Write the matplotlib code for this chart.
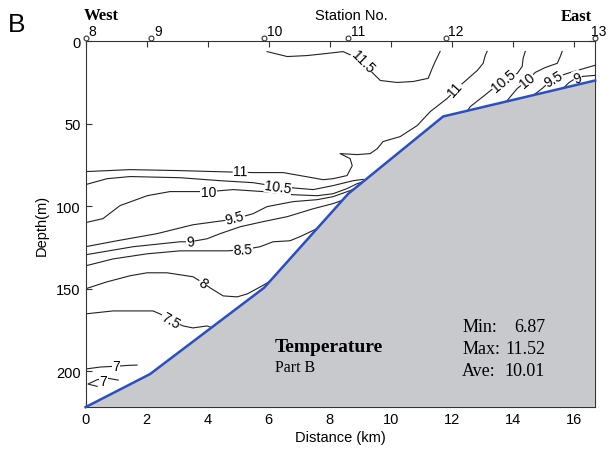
import matplotlib
matplotlib.use("Agg")
import matplotlib.pyplot as plt
import matplotlib.transforms as mtransforms

# sea floor along the section (km, m)
bottom_km = [0.0, 2.11, 5.85, 8.61, 11.72, 16.70]
bottom_depth = [221.8, 201.8, 149.5, 92.5, 45.7, 23.9]

station_names = ["8", "9", "10", "11", "12", "13"]
station_km = [0.0, 2.15, 5.85, 8.6, 11.8, 16.7]

# isotherms traced off the section (km, m)
c115_x = [5.95, 6.61, 7.26, 7.92, 8.44, 8.93, 9.26, 9.49, 9.66, 10.21, 10.74, 11.23, 11.36, 11.46, 11.62]
c115_y = [6.4, 9.4, 8.8, 7.5, 6.4, 10.5, 16.6, 20.8, 23.9, 25.1, 24.5, 22.6, 16.6, 12.4, 6.3]

c11_x = [0, 1.46, 3.10, 4.25, 5.49, 6.48, 7.79, 8.11, 8.57, 8.74, 8.67, 8.34, 8.90, 9.33,
         9.56, 9.75, 10.31, 10.87, 11.30, 11.85, 12.28, 12.84, 13.03, 13.10, 13.16]
c11_y = [79.1, 77.9, 78.5, 79.1, 79.7, 79.7, 84.0, 83.4, 81.5, 75.5, 71.2, 68.2, 68.8, 68.2,
         65.2, 60.9, 57.9, 51.2, 42.7, 34.8, 26.9, 17.8, 13.5, 8.7, 6.3]

c105a_x = [0, 0.70, 1.46, 3.10, 4.41, 5.49, 6.31, 7.46, 8.11, 8.77, 9.1]
c105a_y = [87.0, 83.4, 82.1, 82.8, 84.6, 85.8, 88.2, 90.0, 87.6, 84.6, 83.8]
c105b_x = [12.45, 12.61, 13.03, 13.36, 13.69, 14.15, 14.31, 14.34, 14.41]
c105b_y = [44.0, 39.7, 33.6, 28.7, 23.9, 19.6, 15.4, 10.5, 6.3]

c10a_x = [0, 0.57, 1.13, 2.02, 2.77, 4.05, 4.84, 5.82, 6.80, 7.59, 8.11, 8.57, 8.90, 9.1]
c10a_y = [110.0, 107.6, 99.7, 93.7, 91.2, 91.2, 90.0, 91.2, 93.1, 93.7, 92.5, 89.4, 86.4, 85.2]
c10b_x = [13.7, 13.82, 14.15, 14.48, 14.74, 15.07, 15.46, 15.56, 15.62]
c10b_y = [37.5, 36.0, 28.7, 23.9, 19.0, 16.0, 13.5, 9.3, 6.3]

c95a_x = [0, 1.03, 2.34, 3.52, 4.84, 5.49, 5.95, 6.80, 7.59, 8.11, 8.67, 9.0]
c95a_y = [124.6, 121.0, 116.7, 111.3, 108.0, 104.6, 100.3, 97.3, 96.1, 94.3, 90.6, 88.2]
c95b_x = [14.55, 14.67, 14.97, 15.33, 15.79, 16.23, 16.70]
c95b_y = [34.0, 32.9, 28.7, 22.6, 19.6, 17.2, 14.7]

c9a_x = [0, 1.56, 3.10, 3.43, 3.98, 4.41, 5.07, 5.82, 6.61, 7.46, 8.11, 8.57, 8.85]
c9a_y = [129.5, 124.6, 121.6, 121.6, 119.8, 116.7, 112.5, 109.4, 106.4, 101.6, 98.5, 95.5, 93.1]
c9b_x = [15.6, 15.85, 16.0, 16.3, 16.7]
c9b_y = [29.5, 25.1, 23.3, 21.4, 20.8]

c85_x = [0, 0.90, 2.02, 3.10, 4.64, 5.16, 5.72, 6.15, 6.70, 7.03, 7.43, 7.6]
c85_y = [136.2, 132.0, 128.9, 127.1, 127.1, 126.5, 124.6, 121.6, 121.0, 118.5, 115.0, 113.5]

c8_x = [0, 0.70, 1.46, 2.02, 2.67, 3.52, 3.85, 4.08, 4.51, 4.97, 5.30, 5.49, 5.79, 6.0]
c8_y = [150.1, 145.9, 142.2, 140.4, 140.4, 142.8, 146.5, 149.5, 154.4, 155.0, 153.2, 151.3, 148.3, 146.0]

c75_x = [0, 0.90, 2.21, 2.44, 2.77, 3.20, 3.52, 3.98, 4.2]
c75_y = [165.3, 163.5, 163.5, 165.3, 169.0, 172.6, 173.8, 172.6, 174.0]

c7a_x = [0, 0.48, 1.0, 1.40, 1.69]
c7a_y = [198.7, 197.5, 197.0, 196.5, 196.3]
c7b_x = [1.07, 0.70, 0.38, 0.08, 0.38]
c7b_y = [205.4, 204.2, 205.2, 207.8, 209.2]

isotherms = [(c115_x, c115_y), (c11_x, c11_y), (c105a_x, c105a_y), (c105b_x, c105b_y),
             (c10a_x, c10a_y), (c10b_x, c10b_y), (c95a_x, c95a_y), (c95b_x, c95b_y),
             (c9a_x, c9a_y), (c9b_x, c9b_y), (c85_x, c85_y), (c8_x, c8_y),
             (c75_x, c75_y), (c7a_x, c7a_y), (c7b_x, c7b_y)]

# inline contour labels
label_text = ["11.5", "11", "11", "10.5", "10.5", "10", "10", "9.5", "9.5", "9", "9", "8.5", "8", "7.5", "7", "7"]
label_km = [9.1, 5.07, 12.11, 6.31, 13.69, 4.03, 14.48, 4.90, 15.33, 3.43, 16.12, 5.16, 3.85, 2.78, 1.0, 0.59]
label_depth = [12.3, 79.1, 28.8, 88.2, 23.9, 91.2, 23.9, 107.0, 22.6, 121.6, 22.2, 126.5, 146.5, 169.3, 197.0, 206.0]
label_rot = [-45, -1, 48, -8, 40, 0, 40, 15, 30, 8, 20, 3, -35, -30, 0, 0]

stats_names = ["Min:", "Max:", "Ave:"]
stats_values = ["6.87", "11.52", "10.01"]

fig = plt.figure(figsize=(6.11, 4.52), dpi=100)
ax = fig.add_axes([0.140, 0.097, 0.834, 0.810])

for xs, ys in isotherms:
    ax.plot(xs, ys, color="#222222", lw=0.8, zorder=2)

for s, x, y, r in zip(label_text, label_km, label_depth, label_rot):
    ax.text(x, y, s, rotation=r, rotation_mode="anchor", ha="center", va="center",
            fontsize=10, family="Liberation Sans", zorder=2.5,
            bbox=dict(boxstyle="square,pad=0.03", fc="white", ec="none"))

ax.set_xlim(0, 16.7)
ax.set_ylim(221.8, 0)

poly_x = bottom_km + [ax.get_xlim()[1], 0.0]
poly_y = bottom_depth + [ax.get_ylim()[0], ax.get_ylim()[0]]
ax.fill(poly_x, poly_y, color="#c8c9cc", lw=0, zorder=3)
ax.plot(bottom_km, bottom_depth, color="#2a4fc4", lw=1.8, zorder=4, clip_on=False)

for sp in ax.spines.values():
    sp.set_color("#333333")
ax.set_xticks(range(0, 17, 2))
ax.set_yticks([0, 50, 100, 150, 200])
ax.tick_params(direction="in", top=True, right=True, length=4, labelsize=10.5,
               labeltop=False, color="#333333")
for lab in ax.get_xticklabels() + ax.get_yticklabels():
    lab.set_family("Liberation Sans")
ax.set_xlabel("Distance (km)", fontsize=10.5, family="Liberation Sans", labelpad=3)
ax.set_ylabel("Depth(m)", fontsize=10.5, family="Liberation Sans", labelpad=5)

# stations along the top
lift = ax.transData + mtransforms.ScaledTranslation(0, 2.5 / 72, fig.dpi_scale_trans)
ax.plot(station_km, [0] * len(station_km), "o", ms=3.5, mfc="white", mec="#333333",
        mew=0.8, transform=lift, clip_on=False, zorder=5)
for i, (name, km) in enumerate(zip(station_names, station_km)):
    dx = 2 if i < len(station_names) - 1 else -3  # last one sits at the frame edge
    ax.annotate(name, (km, 0), xytext=(dx, 4), textcoords="offset points",
                fontsize=10, family="Liberation Sans", annotation_clip=False)

fig.text(0.013, 0.945, "B", fontsize=19, family="Liberation Sans", va="center")
fig.text(0.137, 0.965, "West", fontsize=12, family="Liberation Serif",
         weight="bold", va="center")
fig.text(0.575, 0.965, "Station No.", fontsize=10.5, family="Liberation Sans",
         ha="center", va="center")
fig.text(0.968, 0.963, "East", fontsize=12, family="Liberation Serif",
         weight="bold", ha="right", va="center")

ax.text(0.372, 0.167, "Temperature", transform=ax.transAxes, fontsize=14,
        family="Liberation Serif", weight="bold", va="center", zorder=6)
ax.text(0.372, 0.109, "Part B", transform=ax.transAxes, fontsize=11.5,
        family="Liberation Serif", va="center", zorder=6)
for i, (n, v) in enumerate(zip(stats_names, stats_values)):
    yy = 0.219 - i * 0.059
    ax.text(0.739, yy, n, transform=ax.transAxes, fontsize=13,
            family="Liberation Serif", va="center", zorder=6)
    ax.text(0.902, yy, v, transform=ax.transAxes, fontsize=13,
            family="Liberation Serif", va="center", ha="right", zorder=6)

fig.savefig("out.png", dpi=100)
